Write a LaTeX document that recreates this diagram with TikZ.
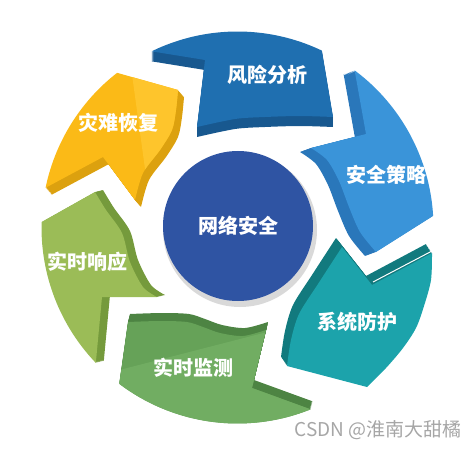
\documentclass[tikz,border=0pt]{standalone}
\usepackage{fontspec}
\usepackage{tikz}
\newfontfamily\cjk{Noto Sans CJK SC}
\definecolor{riskface}{HTML}{1F6FB0}
\definecolor{riskside}{HTML}{18588F}
\definecolor{policyface}{HTML}{3A94D9}
\definecolor{policyside}{HTML}{2A77BA}
\definecolor{defenseface}{HTML}{1CA3AB}
\definecolor{defenseside}{HTML}{127A7E}
\definecolor{monitorface}{HTML}{66A258}
\definecolor{monitorlight}{HTML}{71AD62}
\definecolor{monitorside}{HTML}{4D8443}
\definecolor{responseface}{HTML}{9BBC57}
\definecolor{responseside}{HTML}{759A3C}
\definecolor{recoveryface}{HTML}{FBBA17}
\definecolor{recoverylight}{HTML}{FEC52C}
\definecolor{recoveryside}{HTML}{DCA10F}
\definecolor{hubface}{HTML}{2F54A3}
\newcommand{\drawpiece}[5]{%
  \foreach \k in {1,...,10} \fill [#2, shift={({#4*\k/10},{#5*\k/10})}] #1;
  \fill [#3] #1;}
\def\rim#1#2{plot[domain=#1:#2,smooth,variable=\t] ({237.5+196*cos(\t)},{227.5+196*sin(\t)})}

\begin{document}
\begin{tikzpicture}[x=1pt,y=-1pt]
            \tikzstyle{every node}+=[inner sep=0pt]
            \tikzstyle{stage}=[text=white, font=\cjk\bfseries\fontsize{20}{20}\selectfont]
            \useasboundingbox (0,0) rectangle (476,449);
            \def\riskpath{\rim{-116}{-64.5} -- (333,117) -- plot[smooth] coordinates {(333,117) (300,116) (265,117) (235,119) (197,127)} -- (205,60) -- cycle}
            \def\policypath{\rim{-53.3}{-3.4} -- (376,252) -- plot[smooth] coordinates {(376,252) (360,232) (349,207) (339,181) (327,160) (311,148)} -- (366,134) -- cycle}
            \def\defensepath{(342,247) -- (372,285) -- (432,253) -- plot[smooth] coordinates {(432,253) (431,280) (424,306) (416,328) (403,348) (386,368) (367,387)} -- (287,366) -- plot[smooth] coordinates {(287,366) (291,340) (299,314) (318,284) (342,247)} -- cycle}
            \def\monitorpath{\rim{68.1}{127.1} -- (128,322) -- plot[smooth] coordinates {(128,322) (160,321) (187,322) (203,327) (220,333) (243,336) (266,330)} -- (252,388) -- cycle}
            \def\responsepath{\rim{136.3}{181.6} -- (95,192) -- plot[smooth] coordinates {(95,192) (106,210) (122,233) (130,262) (143,287) (157,297)} -- (102,297) -- cycle}
            \def\recoverypath{\rim{191.7}{232.1} -- (178,90) -- plot[smooth] coordinates {(178,90) (176,110) (172,130) (160,150) (143,173) (135,200)} -- (103,157) -- cycle}
            \drawpiece{\riskpath}{riskside}{riskface}{0}{10}
            \drawpiece{\policypath}{policyside}{policyface}{-11}{4}
            \drawpiece{\defensepath}{defenseside}{defenseface}{-6}{-9}
            \draw [white, line width=1pt] (373,282) -- (432,251);
            \drawpiece{\monitorpath}{monitorside}{monitorface}{2}{-8}
            \begin{scope}
                \clip \monitorpath;
                \fill [monitorlight] (100,375) -- (275,330) -- (340,440) -- (100,440) -- cycle;
            \end{scope}
            \drawpiece{\responsepath}{responseside}{responseface}{8}{-2}
            \drawpiece{\recoverypath}{recoveryside}{recoveryface}{6}{7}
            \begin{scope}
                \clip \recoverypath;
                \fill [recoverylight] (130,60) -- (200,60) -- (200,220) -- (150,205) -- cycle;
            \end{scope}
            \fill [black, opacity=0.15] (240,230) circle (77);
            \node [circle, fill=hubface, minimum size=150pt, stage] (hub) at (238,226) {网络安全};
            \node [stage] (risk) at (267,75) {风险分析};
            \node [stage] (policy) at (386,175) {安全策略};
            \node [stage] (defense) at (357,322) {系统防护};
            \node [stage] (monitor) at (193,368) {实时监测};
            \node [stage] (response) at (87,262) {实时响应};
            \node [stage] (recovery) at (118,123) {灾难恢复};
            \node [anchor=east, text=black!35, font=\cjk\fontsize{19}{19}\selectfont] (mark) at (462,430) {CSDN @淮南大甜橘};
        \end{tikzpicture}
\end{document}
